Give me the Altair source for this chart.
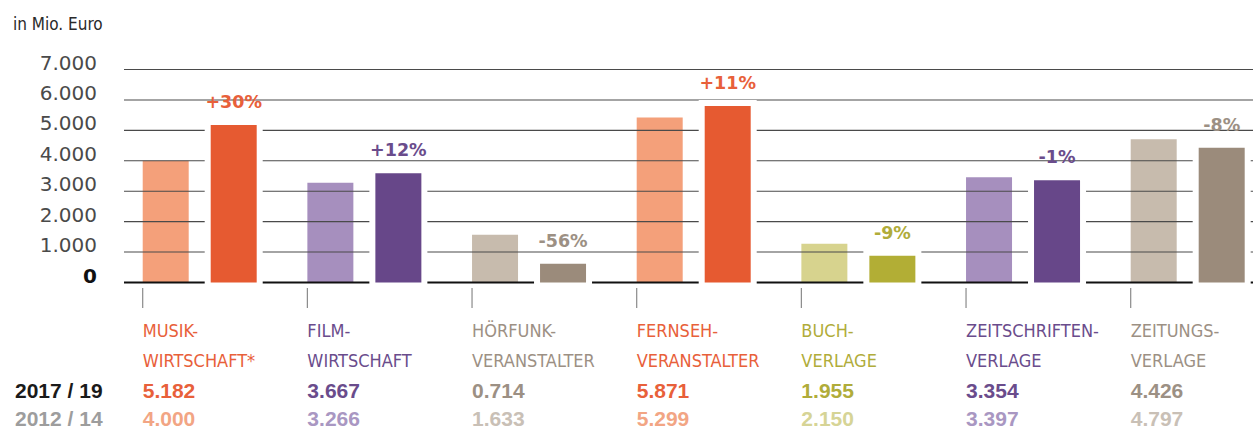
import altair as alt
import pandas as pd

# ---------------- data ----------------
categories = ["Musikwirtschaft", "Filmwirtschaft", "Hörfunkveranstalter", "Fernsehveranstalter",
              "Buchverlage", "Zeitschriftenverlage", "Zeitungsverlage"]
label_line1 = ["MUSIK-", "FILM-", "HÖRFUNK-", "FERNSEH-", "BUCH-", "ZEITSCHRIFTEN-", "ZEITUNGS-"]
label_line2 = ["WIRTSCHAFT*", "WIRTSCHAFT", "VERANSTALTER", "VERANSTALTER", "VERLAGE", "VERLAGE", "VERLAGE"]
periods = ["2012 / 14", "2017 / 19"]
# bar heights as drawn (Mio. Euro)
bars_2012 = [4000, 3280, 1570, 5420, 1270, 3460, 4710]
bars_2017 = [5180, 3590, 615, 5800, 880, 3360, 4430]
# printed values
text_2017 = ["5.182", "3.667", "0.714", "5.871", "1.955", "3.354", "4.426"]
text_2012 = ["4.000", "3.266", "1.633", "5.299", "2.150", "3.397", "4.797"]
changes = ["+30%", "+12%", "-56%", "+11%", "-9%", "-1%", "-8%"]
y_tick_values = [1000, 2000, 3000, 4000, 5000, 6000, 7000]
y_tick_labels = ["1.000", "2.000", "3.000", "4.000", "5.000", "6.000", "7.000"]
zero_label = ["0"]

# ---------------- styles ----------------
family = ["orange", "purple", "taupe", "orange", "olive", "purple", "taupe"]
light_pal = {"orange": "#F4A07A", "purple": "#A68FBE", "taupe": "#C7BBAD", "olive": "#D7D38E"}
dark_pal = {"orange": "#E65A31", "purple": "#674789", "taupe": "#9B8B7B", "olive": "#B2AE35"}
text_dark = {"orange": "#E8603A", "purple": "#6A4C8C", "taupe": "#9C9084", "olive": "#B0AC3A"}
text_light = {"orange": "#F2A584", "purple": "#A997C2", "taupe": "#C9C0B6", "olive": "#D6D496"}

COND = "Liberation Sans Narrow, DejaVu Sans Condensed, Roboto Condensed, Arial Narrow, sans-serif"
SANS = "Liberation Sans, Arial, Helvetica, sans-serif"
WIDE = "DejaVu Sans, Verdana, sans-serif"

rows = []
for i, c in enumerate(categories):
    rows.append({"cat": c, "period": periods[0], "value": bars_2012[i], "color": light_pal[family[i]]})
    rows.append({"cat": c, "period": periods[1], "value": bars_2017[i], "color": dark_pal[family[i]]})
bars_df = pd.DataFrame(rows)

cat_df = pd.DataFrame({
    "cat": categories,
    "period": [periods[1]] * len(categories),
    "l1": label_line1,
    "l2": label_line2,
    "t2017": text_2017,
    "t2012": text_2012,
    "chg": changes,
    "v2017": bars_2017,
    "cdark": [text_dark[f] for f in family],
    "clight": [text_light[f] for f in family],
})
grid_df = pd.DataFrame({"v": y_tick_values, "lab": y_tick_labels})
zero_df = pd.DataFrame({"v": [0], "lab": zero_label})

W, H = 1129, 213

xscale = alt.Scale(domain=categories, paddingInner=0.3077, paddingOuter=0.082, align=0.6926)
oscale = alt.Scale(domain=periods, paddingInner=0.3235, paddingOuter=0)
yscale = alt.Scale(domain=[0, 7000], nice=False, zero=True)

X = alt.X("cat:N", scale=xscale, axis=None, sort=categories)
X0 = alt.X("cat:N", scale=xscale, axis=None, sort=categories, bandPosition=0)
XO = alt.XOffset("period:N", scale=oscale, sort=periods)


def Y(field):
    return alt.Y(field, scale=yscale, axis=None)


base_bars = alt.Chart(bars_df)

light = base_bars.transform_filter(alt.datum.period == periods[0]).mark_bar().encode(
    x=X, xOffset=XO, y=Y("value:Q"), color=alt.Color("color:N", scale=None))

grid = alt.Chart(grid_df).mark_rule(color="#4a4a4a", strokeWidth=1.1).encode(y=Y("v:Q"))
zero = alt.Chart(zero_df).mark_rule(color="#111111", strokeWidth=2.2).encode(y=Y("v:Q"))

ylabels = alt.Chart(grid_df).mark_text(
    font=WIDE, fontSize=20, align="right", baseline="alphabetic", color="#4a4a4a"
).encode(x=alt.value(-27), y=Y("v:Q"), text="lab:N")
zlabel = alt.Chart(zero_df).mark_text(
    font=WIDE, fontSize=20, fontWeight="bold", align="right", baseline="alphabetic", color="#111111"
).encode(x=alt.value(-27), y=Y("v:Q"), text="lab:N")

dark_f = base_bars.transform_filter(alt.datum.period == periods[1])
cover = dark_f.mark_bar(color="white", stroke="white", strokeWidth=12).encode(
    x=X, xOffset=XO, y=Y("value:Q"))
dark = dark_f.mark_bar().encode(
    x=X, xOffset=XO, y=Y("value:Q"), color=alt.Color("color:N", scale=None))

base_cat = alt.Chart(cat_df)

pct = base_cat.mark_text(font=WIDE, fontSize=17.5, fontWeight="bold", baseline="alphabetic",
                         align="center", dy=-17).encode(
    x=X, xOffset=XO, y=Y("v2017:Q"), text="chg:N",
    color=alt.Color("cdark:N", scale=None))

ticks = base_cat.mark_rule(color="#8a8a8a", strokeWidth=1.2).encode(
    x=X0, y=alt.value(218.5), y2=alt.value(238.5))

line1 = base_cat.mark_text(font=COND, fontSize=18, align="left", baseline="alphabetic").encode(
    x=X0, y=alt.value(267.2), text="l1:N", color=alt.Color("cdark:N", scale=None))
line2 = base_cat.mark_text(font=COND, fontSize=18, align="left", baseline="alphabetic").encode(
    x=X0, y=alt.value(297.5), text="l2:N", color=alt.Color("cdark:N", scale=None))
row1 = base_cat.mark_text(font=SANS, fontSize=21, fontWeight="bold", align="left",
                          baseline="alphabetic").encode(
    x=X0, y=alt.value(328.5), text="t2017:N", color=alt.Color("cdark:N", scale=None))
row2 = base_cat.mark_text(font=SANS, fontSize=21, fontWeight="bold", align="left",
                          baseline="alphabetic").encode(
    x=X0, y=alt.value(356.5), text="t2012:N", color=alt.Color("clight:N", scale=None))

hdr1 = alt.Chart(pd.DataFrame({"p": [periods[1]]})).mark_text(
    font=SANS, fontSize=21, fontWeight="bold", align="left", baseline="alphabetic", color="#1a1a1a"
).encode(x=alt.value(-109), y=alt.value(328.5), text="p:N")
hdr2 = alt.Chart(pd.DataFrame({"p": [periods[0]]})).mark_text(
    font=SANS, fontSize=21, fontWeight="bold", align="left", baseline="alphabetic", color="#9d9d9d"
).encode(x=alt.value(-109), y=alt.value(356.5), text="p:N")

unit_df = pd.DataFrame({"t": ["in Mio. Euro"]})
unit = alt.Chart(unit_df).mark_text(font=COND, fontSize=17, align="left", baseline="alphabetic",
                                    color="#2a2a2a").encode(
    x=alt.value(-111), y=alt.value(-39.5), text="t:N")

chart = alt.layer(light, grid, zero, ylabels, zlabel, cover, dark, pct, ticks, line1, line2,
                  row1, row2, hdr1, hdr2, unit).properties(
    width=W, height=H,
    autosize=alt.AutoSizeParams(type="none"),
    padding={"left": 124, "top": 69.5, "right": 0, "bottom": 147.5},
    background="white",
).configure_view(stroke=None)

chart.save("out.html", embed_options={"renderer": "svg", "actions": False})
